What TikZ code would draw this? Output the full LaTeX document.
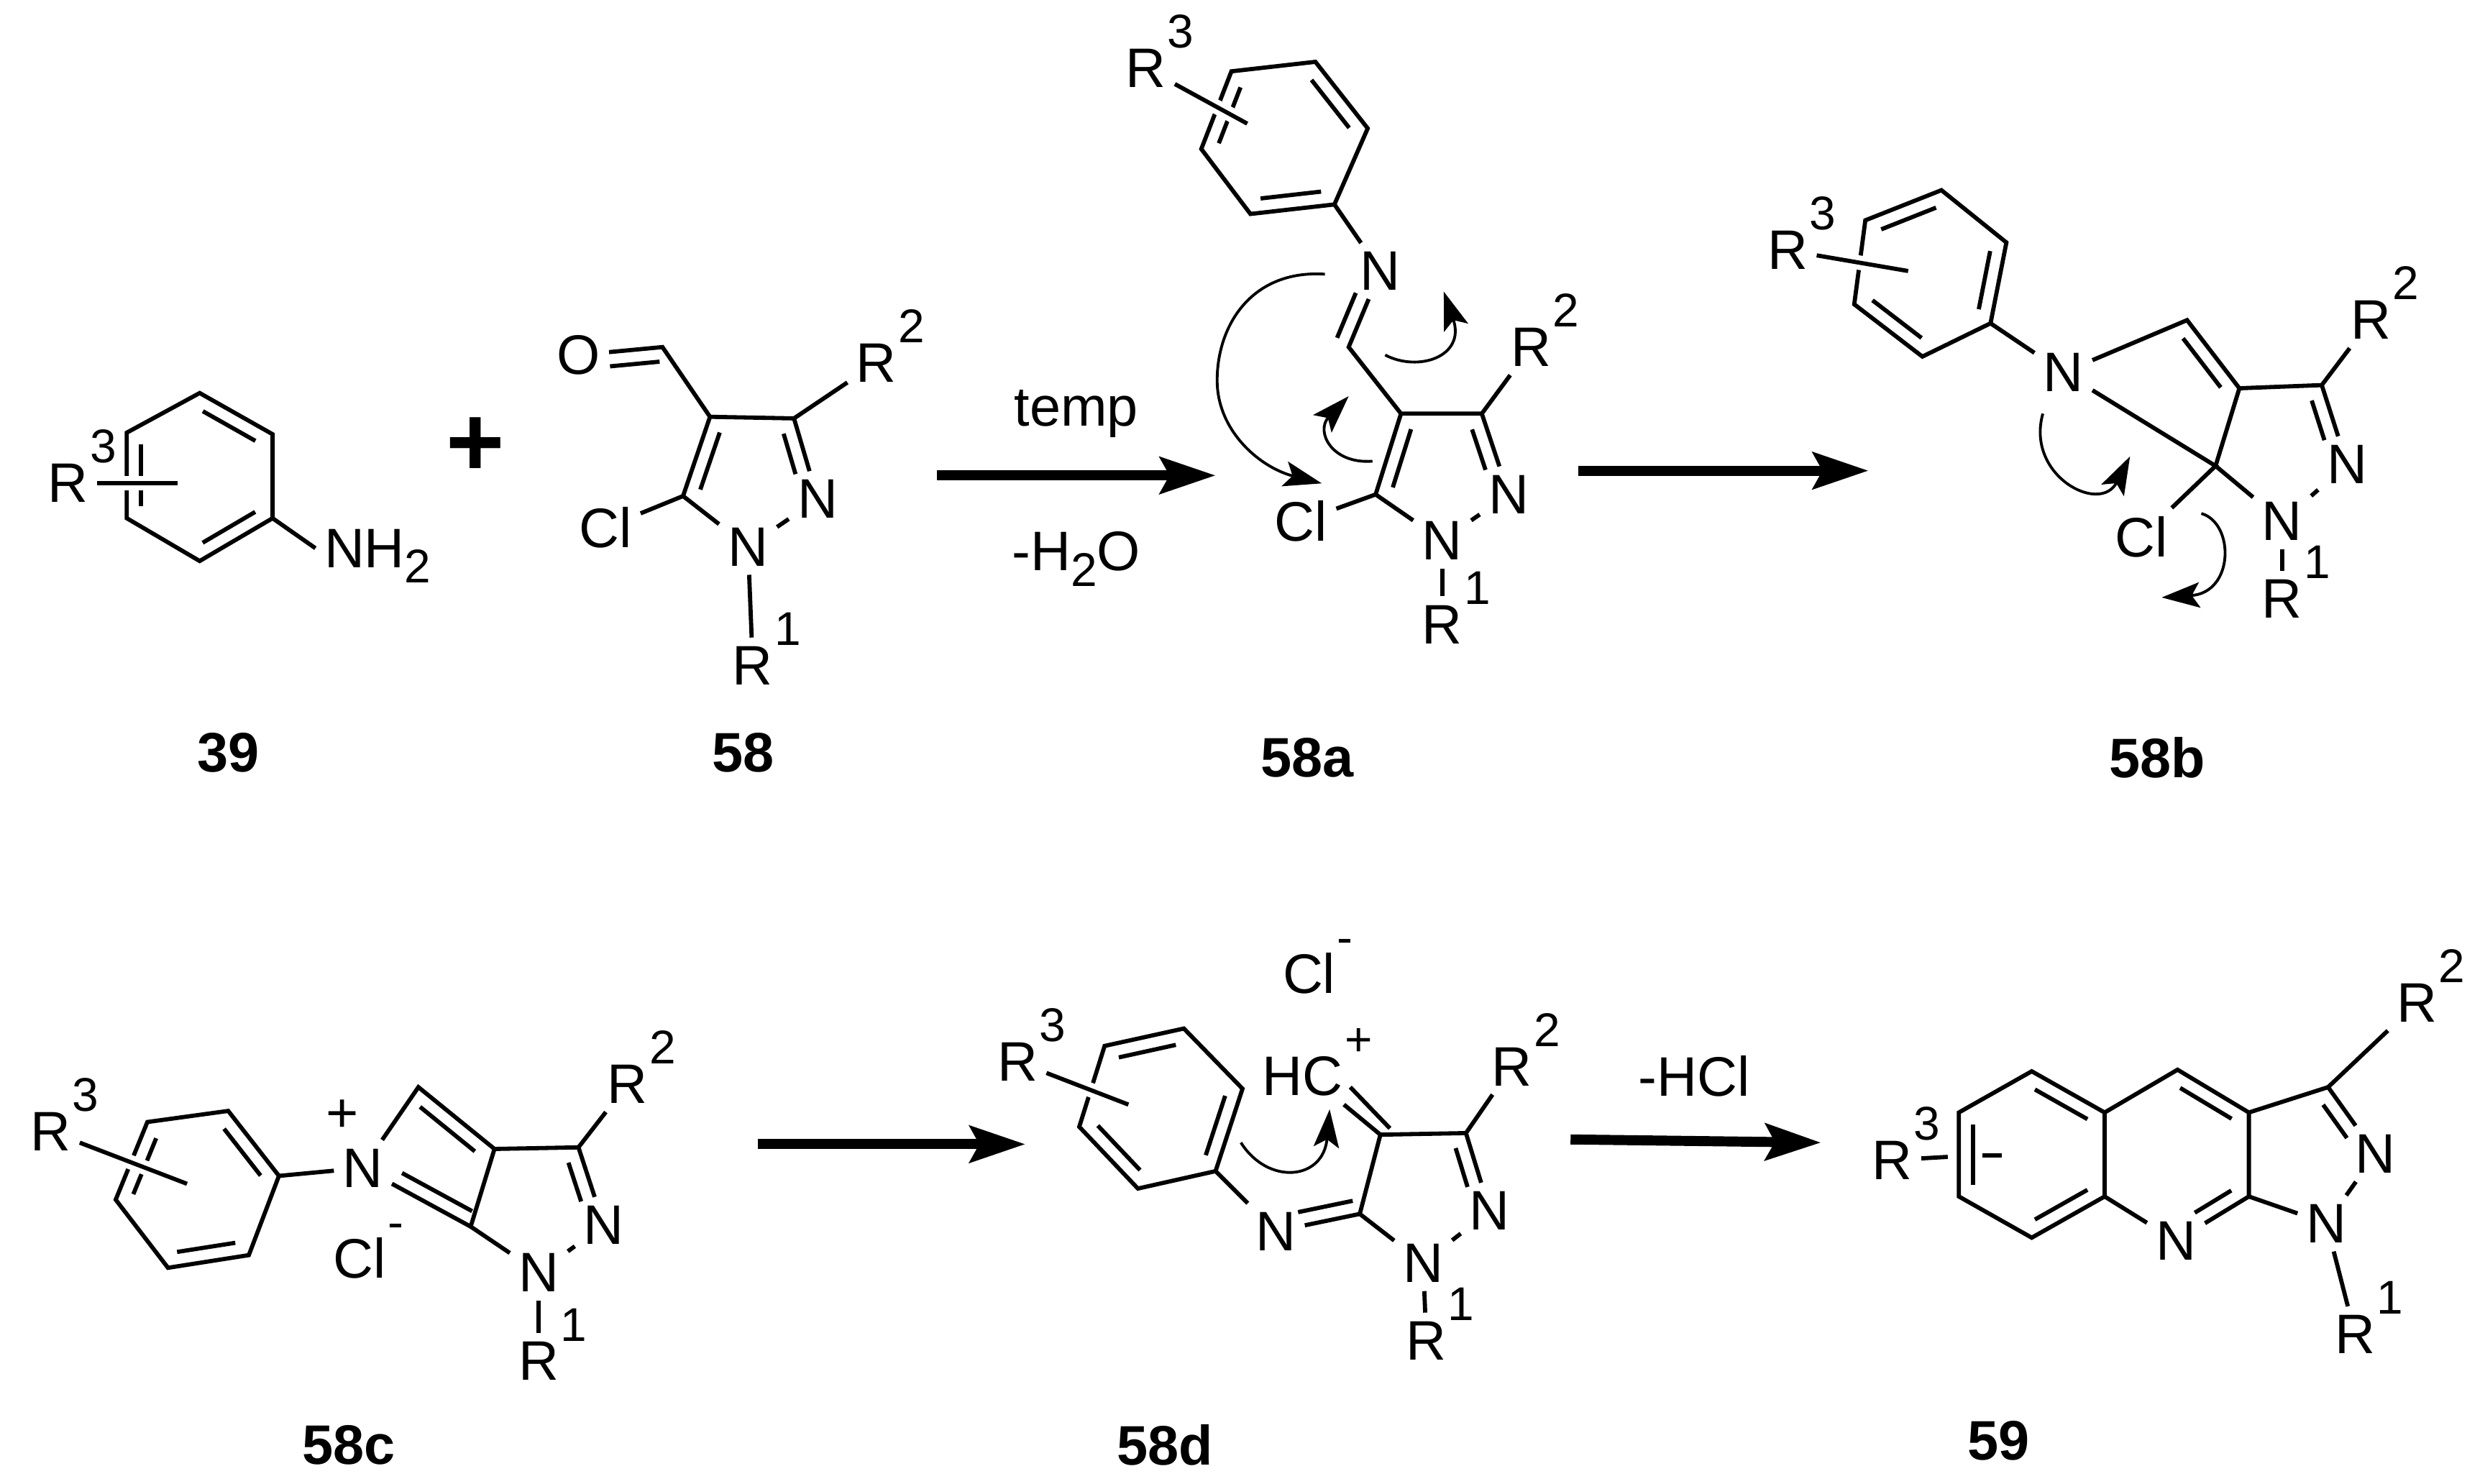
\documentclass[tikz,border=0pt]{standalone}
\usepackage{fontspec}
\setmainfont{Liberation Sans}
\usetikzlibrary{arrows.meta,calc}
\newcommand{\rsup}[1]{\rlap{\smash{\raisebox{7.1pt}{\kern.3pt\fontsize{8.5}{8.5}\selectfont #1}}}}
\newcommand{\lsub}[1]{\smash{\raisebox{-2.8pt}{\fontsize{8.5}{8.5}\selectfont #1}}}
\newcommand{\dblf}[4]{\draw[bond] ($(#3)!#1!(#4)!.9mm!-90:(#4)$) -- ($(#4)!#2!(#3)!.9mm!90:(#3)$);}
\newcommand{\dbl}[2]{\dblf{.14}{.14}{#1}{#2}}
\newcommand{\dbn}[2]{\dblf{.14}{.36}{#1}{#2}}
\tikzset{
  atom/.style={inner sep=1.4pt, font=\fontsize{10}{10}\selectfont},
  cpd/.style={inner sep=0pt, font=\fontsize{10}{10}\selectfont\bfseries},
  bond/.style={line width=.75pt},
  subst/.style={bond, preaction={draw, white, line width=2.6pt}},
  curly/.style={line width=.5pt, -{Stealth[length=2.4mm,width=1.6mm,inset=.5mm]}},
  react/.style={line width=1.8pt, -{Stealth[length=3.5mm,width=2.3mm,inset=.6mm]}}
}

\begin{document}
\begin{tikzpicture}[x=.1mm, y=-.1mm]
  \useasboundingbox (0,0) rectangle (1568,936);

  \coordinate (A1) at (126,248);
  \coordinate (A2) at (172,274);
  \coordinate (A3) at (172,327);
  \coordinate (A4) at (126,354);
  \coordinate (A5) at (80,327);
  \coordinate (A6) at (80,273);
  \coordinate (Ae) at (112,305);
  \node[atom] (AR) at (43,305) {R\rsup{3}};
  \node[atom, anchor=base west] (Anh) at (199,358) {NH\lsub{2}};
  \draw[bond] (A1) -- (A2) -- (A3) -- (A4) -- (A5) -- (A6) -- cycle;
  \draw[bond] (A3) -- (Anh.west);
  \dbl{A1}{A2} \dbl{A3}{A4} \dbl{A5}{A6}
  \draw[subst] (AR) -- (Ae);

  \node[inner sep=0pt, font=\fontsize{18}{18}\selectfont\bfseries] (plus) at (300,282) {+};

  \coordinate (B1) at (448,263);
  \coordinate (B2) at (501,264);
  \coordinate (B5) at (431,313);
  \coordinate (B6) at (418,219);
  \node[atom] (Bn2) at (516,315) {N};
  \node[atom] (Bn1) at (472,345) {N};
  \node[atom] (BO) at (365,224) {O};
  \node[atom] (Bcl) at (382,333) {Cl};
  \node[atom] (BR2) at (553,229) {R\rsup{2}};
  \node[atom] (BR1) at (475,420) {R\rsup{1}};
  \draw[bond] (B1) -- (B2) -- (Bn2) -- (Bn1) -- (B5) -- (B1) -- (B6) -- (BO);
  \draw[bond] (B5) -- (Bcl);
  \draw[bond] (B2) -- (BR2);
  \draw[bond] (Bn1) -- (BR1);
  \dbn{B2}{Bn2} \dbl{B5}{B1} \dblf{.36}{.05}{BO}{B6}

  \coordinate (r1a) at (591,300);
  \coordinate (r1b) at (767,300);
  \draw[react] (r1a) -- (r1b);
  \node[atom] (temp) at (679,261) {temp};
  \node[atom] (water) at (679,348) {-H\lsub{2}O};

  \coordinate (C1) at (777,45);
  \coordinate (C2) at (830,39);
  \coordinate (C3) at (863,81);
  \coordinate (C4) at (842,129);
  \coordinate (C5) at (789,135);
  \coordinate (C6) at (758,94);
  \coordinate (C7) at (851,219);
  \coordinate (C8) at (884,261);
  \coordinate (C9) at (935,261);
  \coordinate (C10) at (868,312);
  \coordinate (Ce) at (787,78);
  \node[atom] (CR) at (723,43) {R\rsup{3}};
  \node[atom] (CN) at (871,171) {N};
  \node[atom] (Cn2) at (952,312) {N};
  \node[atom] (Cn1) at (910,341) {N};
  \node[atom] (Ccl) at (821,329) {Cl};
  \node[atom] (CR2) at (966,219) {R\rsup{2}};
  \node[atom] (CR1) at (910,394) {R\rsup{1}};
  \draw[bond] (C1) -- (C2) -- (C3) -- (C4) -- (C5) -- (C6) -- cycle;
  \draw[bond] (C4) -- (CN) -- (C7) -- (C8) -- (C9) -- (Cn2) -- (Cn1) -- (C10) -- (C8);
  \draw[bond] (C10) -- (Ccl);
  \draw[bond] (C9) -- (CR2);
  \draw[bond] (Cn1) -- (CR1);
  \dbl{C2}{C3} \dbl{C4}{C5} \dbl{C6}{C1}
  \dblf{.36}{.05}{CN}{C7} \dbn{C9}{Cn2} \dbl{C10}{C8}
  \draw[subst] (CR) -- (Ce);
  \coordinate (Cc1) at (836,173);
  \coordinate (Cc2) at (768,240);
  \coordinate (Cc3) at (834,305);
  \coordinate (Cc4) at (874,224);
  \coordinate (Cc5) at (911,184);
  \coordinate (Cc6) at (866,291);
  \coordinate (Cc7) at (851,250);
  \draw[curly] (Cc1) .. controls (790,170) and (768,205) .. (Cc2) .. controls (768,272) and (795,295) .. (Cc3);
  \draw[curly] (Cc4) .. controls (895,235) and (925,225) .. (Cc5);
  \draw[curly] (Cc6) .. controls (840,293) and (830,272) .. (Cc7);

  \coordinate (r2a) at (996,297);
  \coordinate (r2b) at (1179,297);
  \draw[react] (r2a) -- (r2b);

  \coordinate (D1) at (1177,139);
  \coordinate (D2) at (1225,120);
  \coordinate (D3) at (1266,153);
  \coordinate (D4) at (1256,204);
  \coordinate (D5) at (1213,225);
  \coordinate (D6) at (1170,192);
  \coordinate (D7) at (1380,202);
  \coordinate (D8) at (1413,245);
  \coordinate (D9) at (1465,243);
  \coordinate (D10) at (1398,294);
  \coordinate (De) at (1204,171);
  \node[atom] (DR) at (1128,158) {R\rsup{3}};
  \node[atom] (DN) at (1302,235) {N};
  \node[atom] (Dn2) at (1481,293) {N};
  \node[atom] (Dn1) at (1440,329) {N};
  \node[atom] (Dcl) at (1351,339) {Cl};
  \node[atom] (DR2) at (1496,202) {R\rsup{2}};
  \node[atom] (DR1) at (1440,378) {R\rsup{1}};
  \draw[bond] (D1) -- (D2) -- (D3) -- (D4) -- (D5) -- (D6) -- cycle;
  \draw[bond] (D4) -- (DN) -- (D7) -- (D8) -- (D9) -- (Dn2) -- (Dn1) -- (D10) -- (D8);
  \draw[bond] (DN) -- (D10) -- (Dcl);
  \draw[bond] (D9) -- (DR2);
  \draw[bond] (Dn1) -- (DR1);
  \dbl{D1}{D2} \dbl{D3}{D4} \dbl{D5}{D6}
  \dbl{D7}{D8} \dbn{D9}{Dn2}
  \draw[subst] (DR) -- (De);
  \coordinate (Dc1) at (1289,261);
  \coordinate (Dc2) at (1344,288);
  \coordinate (Dc3) at (1389,324);
  \coordinate (Dc4) at (1364,377);
  \draw[curly] (Dc1) .. controls (1278,300) and (1325,325) .. (Dc2);
  \draw[curly] (Dc3) .. controls (1410,330) and (1410,374) .. (Dc4);

  \node[cpd] (l39) at (144,475) {39};
  \node[cpd] (l58) at (469,475) {58};
  \node[cpd] (l58a) at (825,478) {58a};
  \node[cpd] (l58b) at (1361,478) {58b};

  \coordinate (E1) at (93,708);
  \coordinate (E2) at (144,701);
  \coordinate (E3) at (176,742);
  \coordinate (E4) at (157,792);
  \coordinate (E5) at (106,800);
  \coordinate (E6) at (73,757);
  \coordinate (E7) at (264,686);
  \coordinate (E8) at (312,725);
  \coordinate (E9) at (365,724);
  \coordinate (E10) at (297,774);
  \coordinate (Ee) at (118,747);
  \node[atom] (ER) at (32,714) {R\rsup{3}};
  \node[atom] (EN) at (229,737) {N};
  \node[atom] (Ep) at (216,704) {+};
  \node[atom] (En2) at (381,773) {N};
  \node[atom] (En1) at (340,803) {N};
  \node[atom] (Ecl) at (227,794) {Cl\rsup{-}};
  \node[atom] (ER2) at (396,684) {R\rsup{2}};
  \node[atom] (ER1) at (340,859) {R\rsup{1}};
  \draw[bond] (E1) -- (E2) -- (E3) -- (E4) -- (E5) -- (E6) -- cycle;
  \draw[bond] (E3) -- (EN) -- (E7) -- (E8) -- (E9) -- (En2) -- (En1) -- (E10) -- (E8);
  \draw[bond] (EN) -- (E10);
  \draw[bond] (E9) -- (ER2);
  \draw[bond] (En1) -- (ER1);
  \dbl{E2}{E3} \dbl{E4}{E5} \dbl{E6}{E1}
  \dbl{E7}{E8} \dbn{E9}{En2} \dblf{.05}{.3}{E10}{EN}
  \draw[subst] (ER) -- (Ee);

  \coordinate (r3a) at (478,722);
  \coordinate (r3b) at (647,722);
  \draw[react] (r3a) -- (r3b);

  \coordinate (F1) at (697,660);
  \coordinate (F2) at (747,649);
  \coordinate (F3) at (784,687);
  \coordinate (F4) at (767,739);
  \coordinate (F5) at (718,750);
  \coordinate (F6) at (681,711);
  \coordinate (F7) at (858,766);
  \coordinate (F8) at (871,716);
  \coordinate (F9) at (925,715);
  \coordinate (Fh1) at (848,697);
  \coordinate (Fh2) at (852,686);
  \coordinate (Fh3) at (877,712);
  \coordinate (Fe) at (712,697);
  \node[atom] (FR) at (642,670) {R\rsup{3}};
  \node[atom] (FN) at (805,777) {N};
  \node[atom] (Fn2) at (940,764) {N};
  \node[atom] (Fn1) at (898,797) {N};
  \node[atom] (FHC) at (822,679) {HC\rsup{+}};
  \node[atom] (Fcl) at (826,614) {Cl\rsup{-}};
  \node[atom] (FR2) at (954,673) {R\rsup{2}};
  \node[atom] (FR1) at (900,846) {R\rsup{1}};
  \draw[bond] (F1) -- (F2) -- (F3) -- (F4) -- (F5) -- (F6) -- cycle;
  \draw[bond] (F4) -- (FN) -- (F7) -- (F8) -- (F9) -- (Fn2) -- (Fn1) -- (F7);
  \draw[bond] (F8) -- (Fh1);
  \draw[bond] (Fh3) -- (Fh2);
  \draw[bond] (F9) -- (FR2);
  \draw[bond] (Fn1) -- (FR1);
  \dbl{F1}{F2} \dbl{F3}{F4} \dbl{F5}{F6}
  \dblf{.05}{.3}{F7}{FN} \dbn{F9}{Fn2}
  \draw[subst] (FR) -- (Fe);
  \coordinate (Fc1) at (783,721);
  \coordinate (Fc2) at (839,700);
  \draw[curly] (Fc1) .. controls (800,748) and (835,745) .. (Fc2);

  \coordinate (r4a) at (991,719);
  \coordinate (r4b) at (1149,721);
  \draw[react] (r4a) -- (r4b);
  \node[atom] (hcl) at (1069,679) {-HCl};

  \coordinate (G1) at (1236,702);
  \coordinate (G2) at (1282,676);
  \coordinate (G3) at (1328,702);
  \coordinate (G4) at (1328,755);
  \coordinate (G5) at (1282,781);
  \coordinate (G6) at (1236,755);
  \coordinate (G7) at (1374,675);
  \coordinate (G8) at (1419,702);
  \coordinate (G9) at (1419,755);
  \coordinate (G10) at (1469,686);
  \coordinate (Ge1) at (1229,730);
  \coordinate (Ge2) at (1251,729);
  \coordinate (Ge3) at (1263,729);
  \node[atom] (GR) at (1194,732) {R\rsup{3}};
  \node[atom] (GN) at (1373,783) {N};
  \node[atom] (Gn2) at (1499,728) {N};
  \node[atom] (Gn1) at (1468,772) {N};
  \node[atom] (GR2) at (1525,633) {R\rsup{2}};
  \node[atom] (GR1) at (1486,842) {R\rsup{1}};
  \draw[bond] (G1) -- (G2) -- (G3) -- (G4) -- (G5) -- (G6) -- cycle;
  \draw[bond] (G3) -- (G7) -- (G8) -- (G9) -- (GN) -- (G4);
  \draw[bond] (G8) -- (G10) -- (Gn2) -- (Gn1) -- (G9);
  \draw[bond] (GR) -- (Ge1);
  \draw[bond] (Ge2) -- (Ge3);
  \draw[bond] (G10) -- (GR2);
  \draw[bond] (Gn1) -- (GR1);
  \dbl{G2}{G3} \dbl{G4}{G5} \dbl{G6}{G1}
  \dbl{G7}{G8} \dbn{G9}{GN} \dbn{G10}{Gn2}

  \node[cpd] (l58c) at (220,912) {58c};
  \node[cpd] (l58d) at (735,912) {58d};
  \node[cpd] (l59) at (1261,909) {59};
\end{tikzpicture}
\end{document}
